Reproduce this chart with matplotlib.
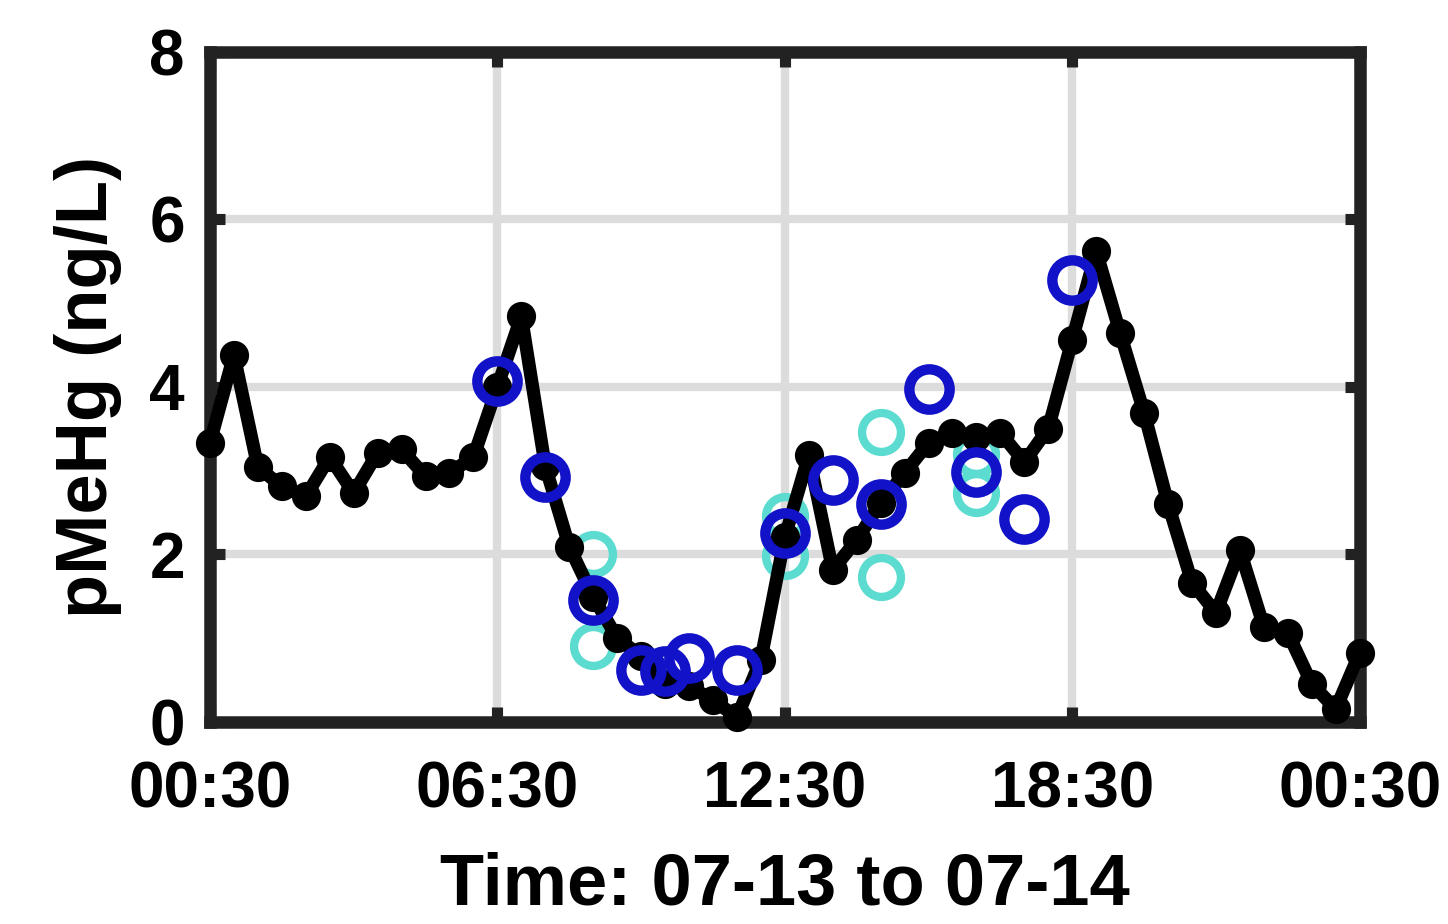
import matplotlib
matplotlib.use("Agg")
import matplotlib.pyplot as plt
import numpy as np

plt.rcParams['font.family'] = ['Liberation Sans', 'DejaVu Sans']
plt.rcParams['font.weight'] = 'bold'

# hours after 00:30 on 07-13, one reading every half hour
hours = np.arange(0, 24.5, 0.5)
pmehg = [3.33, 4.38, 3.04, 2.81, 2.69, 3.16, 2.73, 3.21, 3.25, 2.93,
         2.97, 3.16, 4.00, 4.84, 3.05, 2.09, 1.49, 1.00, 0.78, 0.45,
         0.42, 0.26, 0.05, 0.74, 2.20, 3.18, 1.81, 2.17, 2.61, 2.97,
         3.33, 3.45, 3.40, 3.45, 3.10, 3.50, 4.56, 5.62, 4.64, 3.69,
         2.60, 1.66, 1.30, 2.05, 1.13, 1.06, 0.45, 0.15, 0.82]

# measured samples
obs_hours = [6.0, 7.0, 8.0, 9.0, 9.5, 10.0, 11.0, 12.0, 13.0, 14.0, 15.0, 16.0, 17.0, 18.0]
obs_vals = [4.07, 2.92, 1.45, 0.62, 0.60, 0.76, 0.62, 2.25, 2.88, 2.60, 3.97, 2.98, 2.42, 5.28]

# upper / lower bounds of the samples
bnd_hours = [8.0, 8.0, 12.0, 12.0, 14.0, 14.0, 16.0, 16.0]
bnd_vals = [2.00, 0.90, 2.45, 1.98, 3.46, 1.73, 3.20, 2.73]

tick_hours = [0, 6, 12, 18, 24]
tick_labels = ['00:30', '06:30', '12:30', '18:30', '00:30']

fig = plt.figure(figsize=(14.48, 9.24), dpi=100)
ax = fig.add_axes([0.145, 0.219, 0.794, 0.725])

ax.plot(bnd_hours, bnd_vals, 'o', ls='none', ms=28, mfc='none', mec='#5cdcd0', mew=6, zorder=3, clip_on=False)
ax.plot(hours, pmehg, '-o', color='black', lw=9.5, ms=19, mew=2, zorder=4, clip_on=False)
ax.plot(obs_hours, obs_vals, 'o', ls='none', ms=29, mfc='none', mec='#1212c8', mew=7.5, zorder=5, clip_on=False)

ax.set_xlim(0, 24)
ax.set_ylim(0, 8)
ax.set_xticks(tick_hours)
ax.set_xticklabels(tick_labels)
ax.set_yticks([0, 2, 4, 6, 8])
ax.grid(True, color='#dcdcdc', lw=6)
ax.set_axisbelow(True)
for s in ax.spines.values():
    s.set_linewidth(9)
    s.set_color('#222222')
ax.tick_params(direction='in', length=11, width=8, color='#222222', labelsize=46,
               top=True, right=True)
ax.tick_params(axis='x', pad=28)
ax.tick_params(axis='y', pad=18)

ax.set_xlabel('Time: 07-13 to 07-14', fontsize=52, fontweight='bold', labelpad=22)
ax.set_ylabel('pMeHg (ng/L)', fontsize=52, fontweight='bold', labelpad=20)

fig.savefig('out.png', dpi=100)
